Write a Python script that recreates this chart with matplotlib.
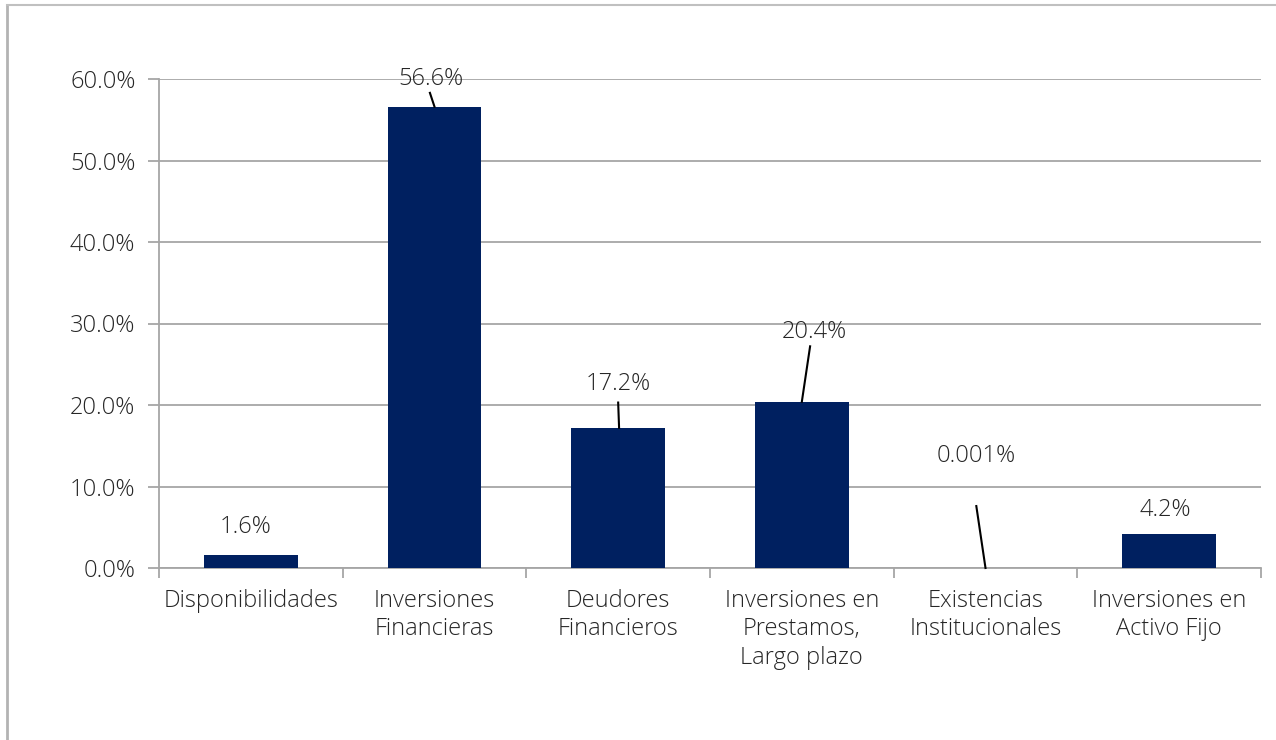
import matplotlib.pyplot as plt
from matplotlib.ticker import FuncFormatter, FixedLocator
from matplotlib.lines import Line2D

categories = ["Disponibilidades", "Inversiones\nFinancieras", "Deudores\nFinancieros",
              "Inversiones en\nPrestamos,\nLargo plazo", "Existencias\nInstitucionales",
              "Inversiones en\nActivo Fijo"]
values = [1.6, 56.6, 17.2, 20.4, 0.001, 4.2]
value_labels = ["1.6%", "56.6%", "17.2%", "20.4%", "0.001%", "4.2%"]
# label positions (x offset in categories, y in %) and leader line ends
label_pos = [(-0.03, 5.0), (-0.02, 60.0), (0.0, 22.6), (0.07, 29.0), (-0.05, 13.7), (-0.02, 7.1)]
leaders = [None, ((-0.025, 58.3), (0.0, 56.6)), ((0.0, 20.3), (0.005, 17.2)),
           ((0.045, 27.2), (0.0, 20.4)), ((-0.05, 7.6), (0.0, 0.0)), None]

plt.rcParams['font.family'] = ['Open Sans', 'DejaVu Sans']
text_col = "#262626"
grid_col = "#A6A6A6"
bar_col = "#002060"
fs = 17

fig = plt.figure(figsize=(12.76, 7.40), dpi=100)
ax = fig.add_axes([159 / 1276, 1 - 568 / 740, (1261 - 159) / 1276, (568 - 79) / 740])

x = list(range(len(categories)))
ax.bar(x, values, width=0.51, color=bar_col, zorder=3)
ax.set_xlim(-0.5, len(categories) - 0.5)
ax.set_ylim(0, 60)
ax.set_yticks([0, 10, 20, 30, 40, 50, 60])
ax.yaxis.set_major_formatter(FuncFormatter(lambda v, p: f"{v:.1f}%"))
ax.grid(axis='y', color=grid_col, linewidth=1.3, zorder=0)
ax.set_axisbelow(True)
for s in ["top", "right"]:
    ax.spines[s].set_visible(False)
for s in ["left", "bottom"]:
    ax.spines[s].set_color(grid_col)
    ax.spines[s].set_linewidth(1.3)

ax.xaxis.set_major_locator(FixedLocator([i - 0.5 for i in range(len(categories) + 1)]))
ax.xaxis.set_major_formatter(FuncFormatter(lambda v, p: ""))
ax.xaxis.set_minor_locator(FixedLocator(x))
ax.set_xticklabels(categories, minor=True, fontweight='light', linespacing=1.25)
ax.tick_params(axis='x', which='major', length=7, color=grid_col, width=1.3)
ax.tick_params(axis='x', which='minor', length=0, pad=15, labelsize=fs, labelcolor=text_col)
ax.tick_params(axis='y', length=8, color=grid_col, width=1.3, pad=9, labelsize=fs, labelcolor=text_col)
for t in ax.yaxis.get_majorticklabels():
    t.set_fontweight('light')

for i, (lbl, (dx, ly)) in enumerate(zip(value_labels, label_pos)):
    ax.text(i + dx, ly, lbl, ha='center', va='center', fontsize=fs,
            fontweight='light', color=text_col, zorder=4)
    if leaders[i] is not None:
        (x0, y0), (x1, y1) = leaders[i]
        ax.plot([i + x0, i + x1], [y0, y1], color='black', linewidth=1.5, zorder=4, clip_on=False)

# chart area border (left and top)
fig.add_artist(Line2D([7 / 1276, 7 / 1276], [0, 1 - 5 / 740], color="#B3B3B3", linewidth=2))
fig.add_artist(Line2D([7 / 1276, 1], [1 - 5 / 740, 1 - 5 / 740], color="#C0C0C0", linewidth=1.5))

fig.savefig("out.png", dpi=100)
